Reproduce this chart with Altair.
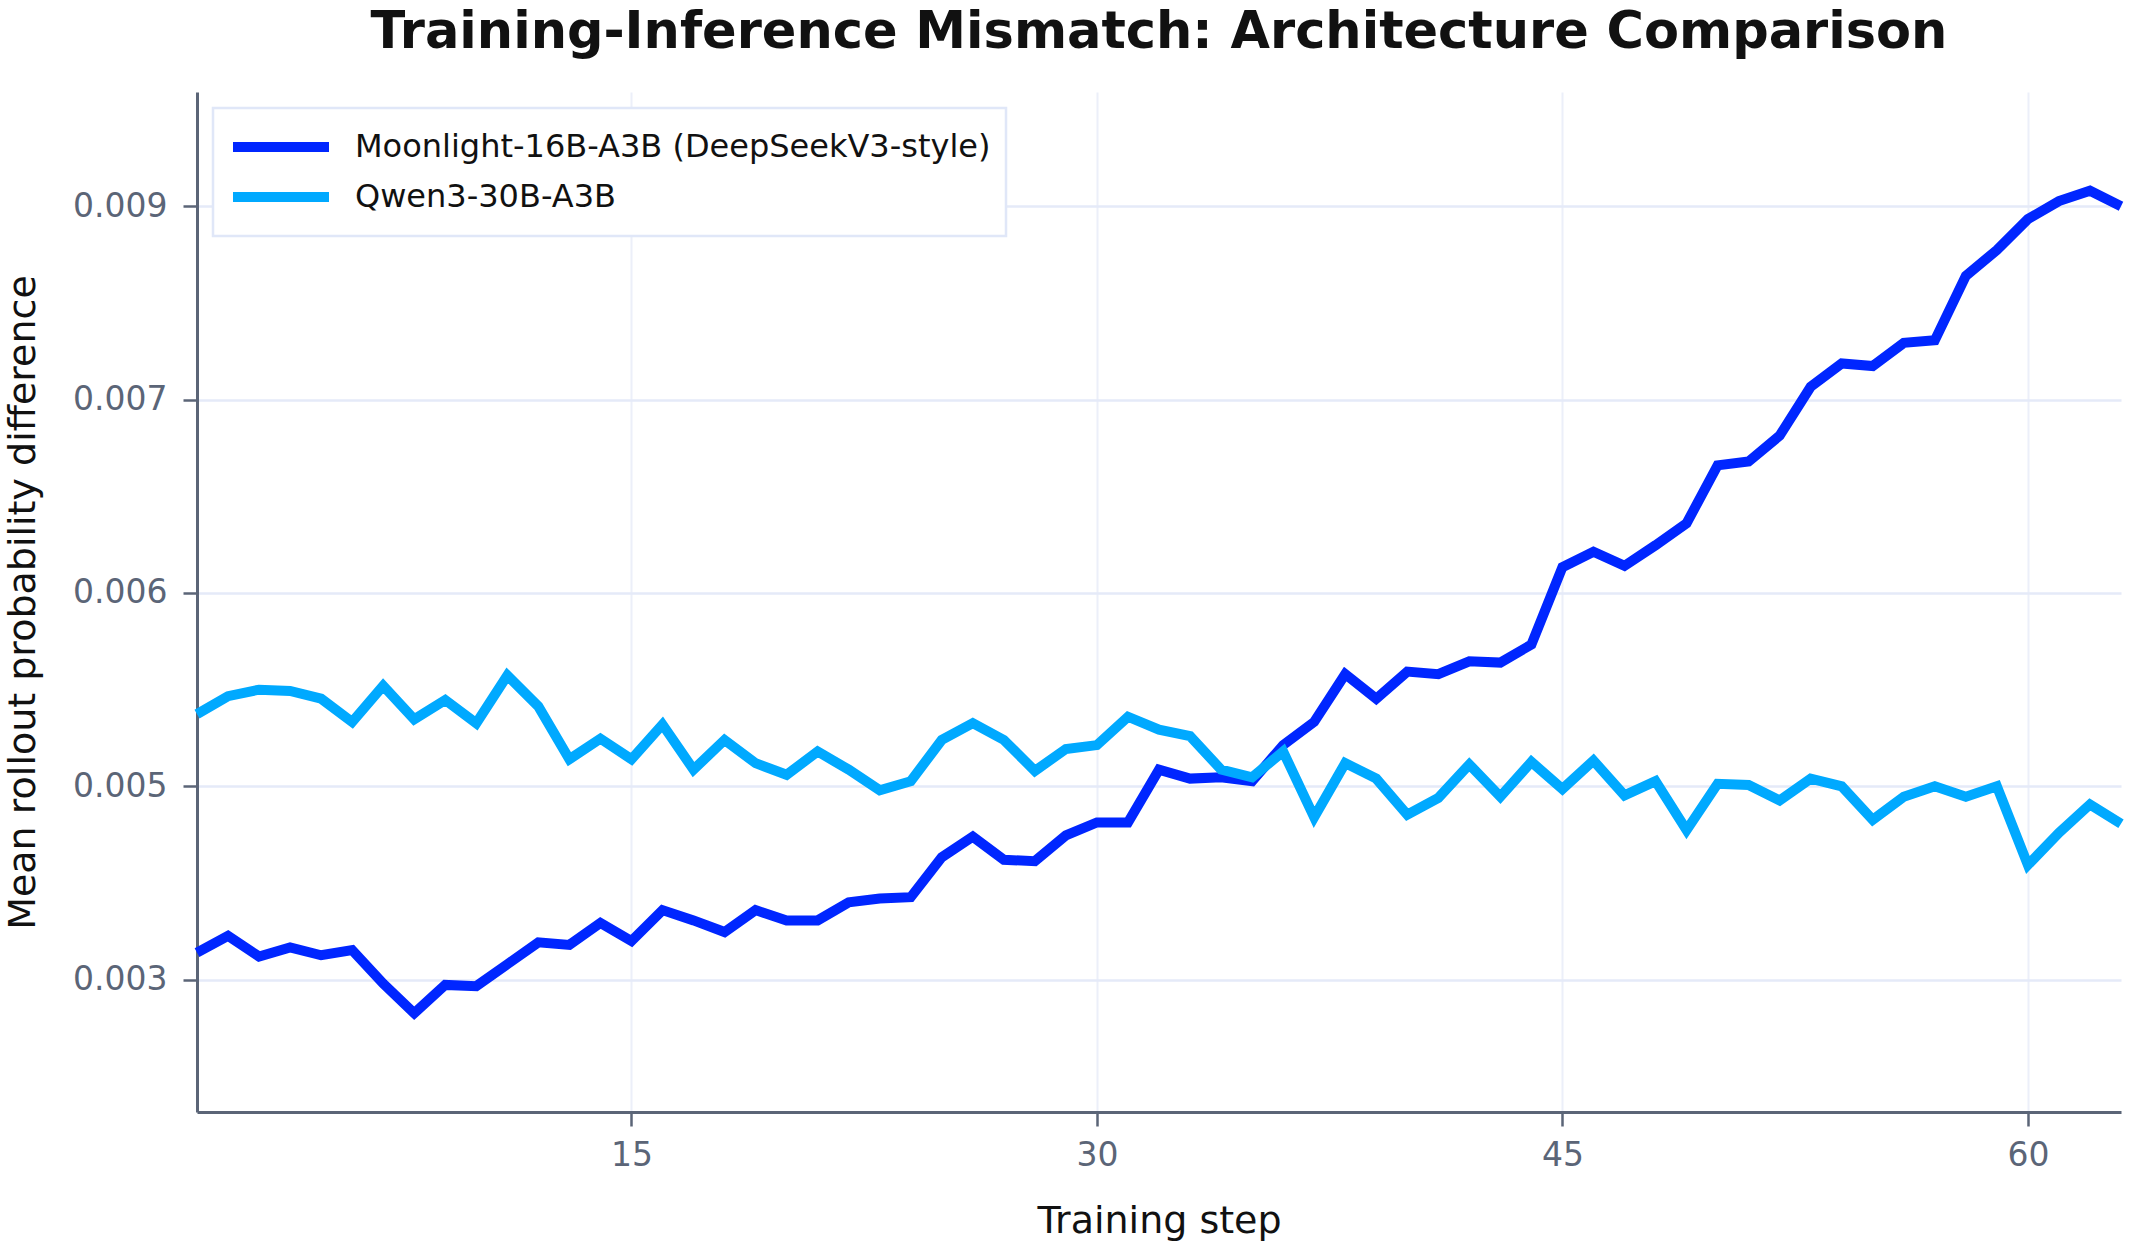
import json
import altair as alt
import pandas as pd

# ---- data ----
steps = list(range(1, 64))
series_names = ["Moonlight-16B-A3B (DeepSeekV3-style)", "Qwen3-30B-A3B"]
series_colors = ["#0026FF", "#00A9FF"]

moonlight = [
    0.00321, 0.00334, 0.00318, 0.00325, 0.00319, 0.00323, 0.00297, 0.00274, 0.00296, 0.00295,
    0.00312, 0.00329, 0.00327, 0.00344, 0.00330, 0.00354, 0.00346, 0.00337, 0.00354, 0.00346,
    0.00346, 0.00360, 0.00363, 0.00364, 0.00395, 0.00411, 0.00393, 0.00392, 0.00412, 0.00422,
    0.00422, 0.00463, 0.00456, 0.00457, 0.00454, 0.00482, 0.00500, 0.00537, 0.00518, 0.00539,
    0.00537, 0.00547, 0.00546, 0.00560, 0.00620, 0.00632, 0.00621, 0.00637, 0.00654, 0.00699,
    0.00702, 0.00722, 0.00760, 0.00778, 0.00776, 0.00794, 0.00796, 0.00846, 0.00866, 0.00890,
    0.00904, 0.00912, 0.00900,
]
qwen = [
    0.00506, 0.00520, 0.00525, 0.00524, 0.00518, 0.00500, 0.00528, 0.00502, 0.00517, 0.00499,
    0.00536, 0.00512, 0.00471, 0.00487, 0.00471, 0.00498, 0.00463, 0.00486, 0.00468, 0.00459,
    0.00477, 0.00463, 0.00447, 0.00454, 0.00486, 0.00499, 0.00486, 0.00462, 0.00479, 0.00482,
    0.00504, 0.00494, 0.00489, 0.00463, 0.00457, 0.00477, 0.00426, 0.00468, 0.00456, 0.00428,
    0.00441, 0.00467, 0.00442, 0.00469, 0.00448, 0.00470, 0.00443, 0.00454, 0.00416, 0.00452,
    0.00451, 0.00439, 0.00456, 0.00450, 0.00424, 0.00442, 0.00450, 0.00442, 0.00450, 0.00389,
    0.00414, 0.00436, 0.00421,
]

x_ticks = [15, 30, 45, 60]
y_ticks = [0.003, 0.0045, 0.006, 0.0075, 0.009]
y_tick_labels = ["0.003", "0.005", "0.006", "0.007", "0.009"]
x_domain = [1, 63]
y_domain = [0.001974, 0.009886]

rows = []
for name, vals in zip(series_names, [moonlight, qwen]):
    for s, v in zip(steps, vals):
        rows.append({"step": s, "value": v, "model": name})
df = pd.DataFrame(rows)

FONT = "DejaVu Sans"
AXIS_GREY = "#5b6577"

y_label_expr = "{}[indexof({}, datum.value)]".format(json.dumps(y_tick_labels), json.dumps(y_ticks))

chart = (
    alt.Chart(df)
    .mark_line(strokeWidth=10)
    .encode(
        x=alt.X(
            "step:Q",
            scale=alt.Scale(domain=x_domain, nice=False, zero=False),
            axis=alt.Axis(
                title="Training step",
                values=x_ticks,
                gridColor="#eceff9",
                gridWidth=2,
                titlePadding=30,
                labelPadding=13,
            ),
        ),
        y=alt.Y(
            "value:Q",
            scale=alt.Scale(domain=y_domain, nice=False, zero=False),
            axis=alt.Axis(
                title="Mean rollout probability difference",
                values=y_ticks,
                labelExpr=y_label_expr,
                gridColor="#e5eaf8",
                gridWidth=2.5,
                titlePadding=30,
                labelPadding=16,
            ),
        ),
        color=alt.Color(
            "model:N",
            scale=alt.Scale(domain=series_names, range=series_colors),
            legend=alt.Legend(
                title=None,
                orient="top-left",
                offset=16,
                symbolType="stroke",
                symbolSize=9216,
                symbolStrokeWidth=10,
                clipHeight=48,
                labelFontSize=32,
                labelFont=FONT,
                labelColor="#111111",
                labelLimit=2000,
                labelOffset=21,
                rowPadding=2,
                padding=15,
                fillColor="#ffffff",
                strokeColor="#e0e7f8",
            ),
        ),
    )
    .properties(
        width=1924,
        height=1020,
        autosize=alt.AutoSizeParams(type="none"),
        padding={"left": 197, "top": 92, "right": 10, "bottom": 135},
        title=alt.TitleParams(
            "Training-Inference Mismatch: Architecture Comparison",
            font=FONT,
            fontSize=51,
            fontWeight="bold",
            color="#111111",
            anchor="middle",
            offset=33,
        ),
    )
    .configure_view(stroke=None)
    .configure_axis(
        labelFont=FONT,
        labelFontSize=33,
        labelColor=AXIS_GREY,
        titleFont=FONT,
        titleFontSize=38,
        titleFontWeight="normal",
        titleColor="#111111",
        domainColor=AXIS_GREY,
        domainWidth=3,
        tickColor=AXIS_GREY,
        tickWidth=2.5,
        tickSize=14,
    )
    .configure_legend(strokeWidth=2.5, cornerRadius=0)
)

chart.save("out.html", embed_options={"renderer": "svg", "actions": False})
